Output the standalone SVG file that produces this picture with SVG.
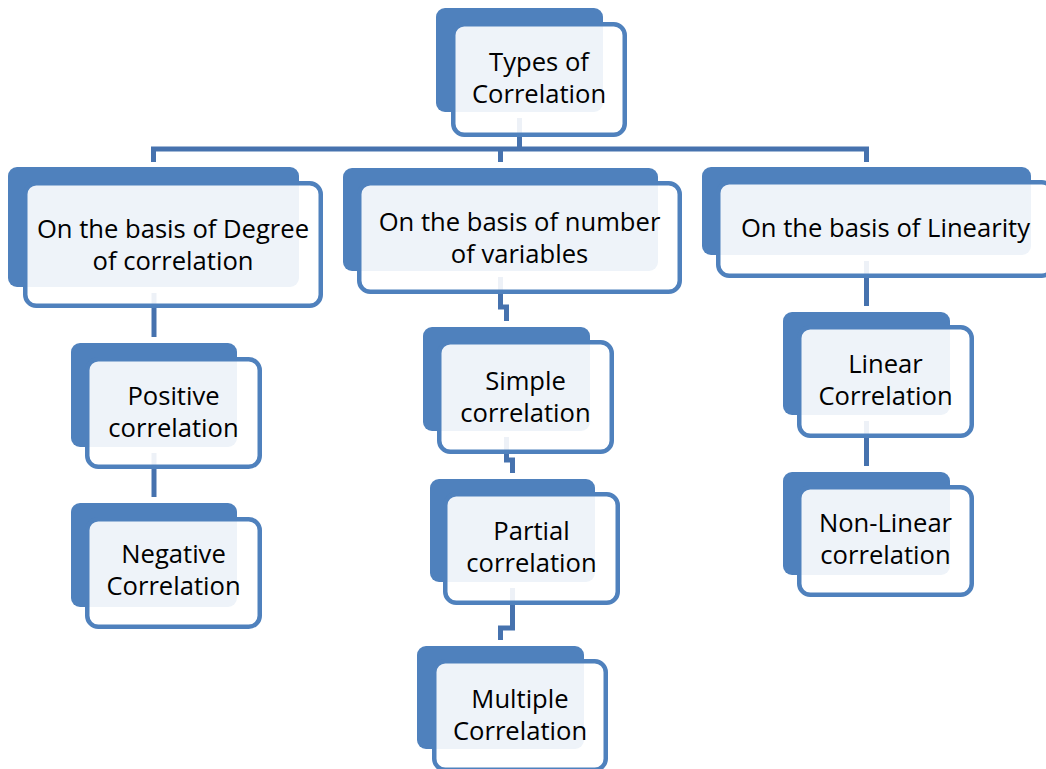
<svg xmlns="http://www.w3.org/2000/svg" width="1046" height="769" viewBox="0 0 1046 769">
<style>
.bg{fill:#4F81BD}
.fg{fill:#FFFFFF;fill-opacity:0.9;stroke:#4F81BD;stroke-width:4.5}
.t{font-family:"Open Sans","Liberation Sans",sans-serif;font-size:25.6px;fill:#000000;text-anchor:middle}
.c{fill:none;stroke:#4672AE;stroke-width:5;stroke-linejoin:miter}
</style>
<rect width="1046" height="769" fill="#FFFFFF"/>
<g id="connectors">
<path class="c" d="M519.5 118 V149 M153.5 162 V149 H866.5 V162 M500.5 149 V162"/>
<path class="c" d="M154 293 V337"/>
<path class="c" d="M154 453 V497"/>
<path class="c" d="M500.5 277 V307 H506.5 V321"/>
<path class="c" d="M506.5 437 V460 H512.5 V473"/>
<path class="c" d="M512.5 588 V628 H500.5 V640"/>
<path class="c" d="M866.5 261 V306"/>
<path class="c" d="M866.5 421 V466"/>
</g>
<g id="root">
<rect class="bg" x="436" y="8" width="167" height="104" rx="9"/>
<rect class="fg" x="453.25" y="24.25" width="171.5" height="110.5" rx="11"/>
<text class="t" x="539" y="71">Types of</text>
<text class="t" x="539" y="103">Correlation</text>
</g>
<g id="degree">
<rect class="bg" x="8" y="167" width="291" height="120" rx="9"/>
<rect class="fg" x="25.25" y="183.25" width="295.5" height="122.5" rx="11"/>
<text class="t" x="173" y="238">On the basis of Degree</text>
<text class="t" x="173" y="270">of correlation</text>
</g>
<g id="variables">
<rect class="bg" x="343" y="168" width="315" height="103" rx="9"/>
<rect class="fg" x="359.25" y="183.25" width="320.5" height="108.5" rx="11"/>
<text class="t" x="519.5" y="231">On the basis of number</text>
<text class="t" x="519.5" y="263">of variables</text>
</g>
<g id="linearity">
<rect class="bg" x="702" y="167" width="329" height="88" rx="9"/>
<rect class="fg" x="718.25" y="182.25" width="334.5" height="93.5" rx="11"/>
<text class="t" x="885.5" y="237">On the basis of Linearity</text>
</g>
<g id="positive">
<rect class="bg" x="71" y="343" width="166" height="104" rx="9"/>
<rect class="fg" x="87.25" y="359.25" width="172.5" height="107.5" rx="11"/>
<text class="t" x="173.5" y="405">Positive</text>
<text class="t" x="173.5" y="437">correlation</text>
</g>
<g id="negative">
<rect class="bg" x="71" y="503" width="166" height="104" rx="9"/>
<rect class="fg" x="87.25" y="519.25" width="172.5" height="107.5" rx="11"/>
<text class="t" x="173.5" y="563">Negative</text>
<text class="t" x="173.5" y="595">Correlation</text>
</g>
<g id="simple">
<rect class="bg" x="423" y="327" width="167" height="104" rx="9"/>
<rect class="fg" x="439.25" y="342.25" width="172.5" height="109.5" rx="11"/>
<text class="t" x="525.5" y="390">Simple</text>
<text class="t" x="525.5" y="422">correlation</text>
</g>
<g id="partial">
<rect class="bg" x="430" y="479" width="165" height="103" rx="9"/>
<rect class="fg" x="445.25" y="494.25" width="172.5" height="108.5" rx="11"/>
<text class="t" x="531.5" y="540">Partial</text>
<text class="t" x="531.5" y="572">correlation</text>
</g>
<g id="multiple">
<rect class="bg" x="417" y="646" width="167" height="103" rx="9"/>
<rect class="fg" x="434.25" y="661.25" width="171.5" height="108.5" rx="11"/>
<text class="t" x="520" y="708">Multiple</text>
<text class="t" x="520" y="740">Correlation</text>
</g>
<g id="linear">
<rect class="bg" x="783" y="312" width="167" height="103" rx="9"/>
<rect class="fg" x="799.25" y="327.25" width="172.5" height="108.5" rx="11"/>
<text class="t" x="885.5" y="373">Linear</text>
<text class="t" x="885.5" y="405">Correlation</text>
</g>
<g id="nonlinear">
<rect class="bg" x="783" y="472" width="167" height="103" rx="9"/>
<rect class="fg" x="799.25" y="487.25" width="172.5" height="107.5" rx="11"/>
<text class="t" x="885.5" y="532">Non-Linear</text>
<text class="t" x="885.5" y="564">correlation</text>
</g>
</svg>
